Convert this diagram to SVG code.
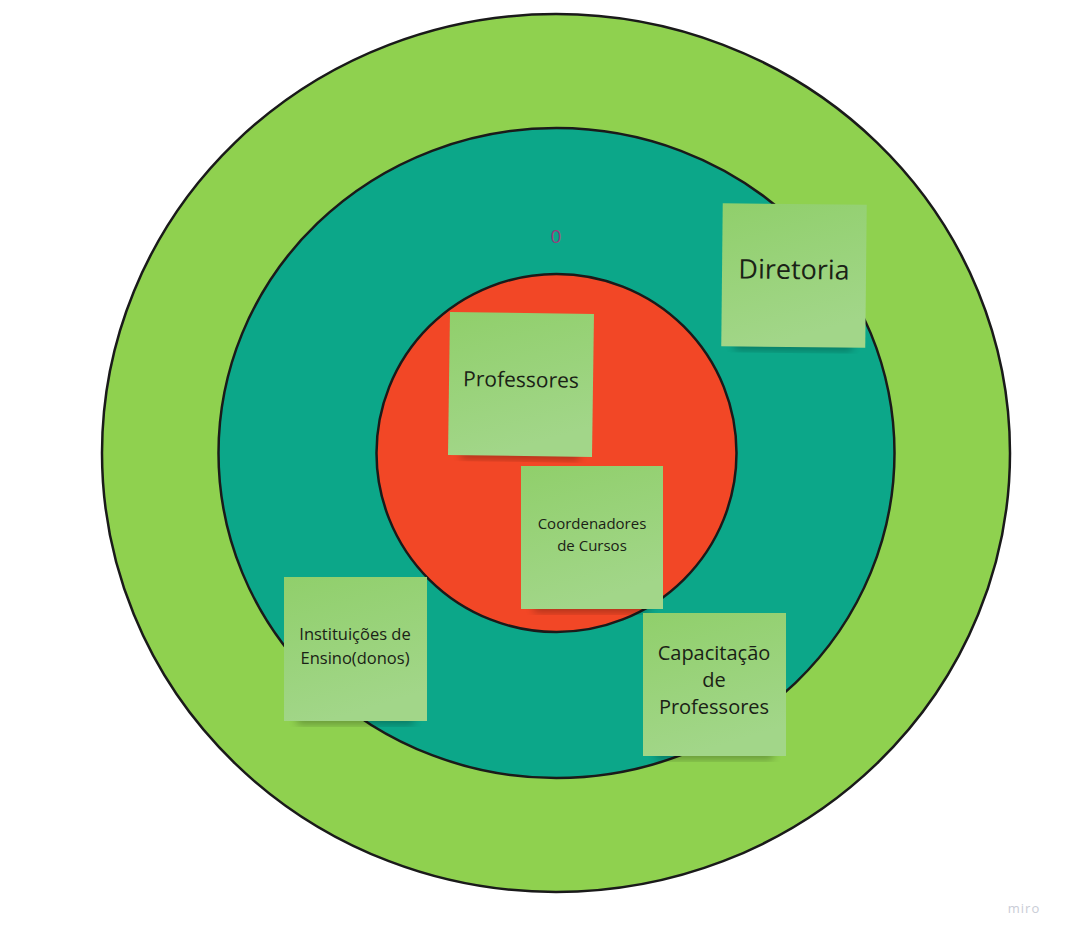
<svg xmlns="http://www.w3.org/2000/svg" width="1066" height="937" viewBox="0 0 1066 937">
  <style>
    .ring { stroke: #1a1a1a; stroke-width: 2.5; }
    .note { fill: url(#noteFill); }
    .shadow { fill: #000; opacity: 0.3; filter: url(#soft); }
    .label { font-family: "Open Sans", "Noto Sans", sans-serif; fill: #1a2216; text-anchor: middle; }
  </style>
  <defs>
    <linearGradient id="noteFill" x1="0" y1="0" x2="0.3" y2="1">
      <stop offset="0" stop-color="#90cf6b"/>
      <stop offset="1" stop-color="#a2d689"/>
    </linearGradient>
    <filter id="soft" x="-20%" y="-30%" width="140%" height="160%">
      <feGaussianBlur stdDeviation="4"/>
    </filter>
  </defs>

  <rect width="1066" height="937" fill="#ffffff"/>

  <!-- concentric rings -->
  <g id="rings">
    <ellipse id="outer" class="ring" cx="556" cy="453" rx="454" ry="439" fill="#8fd14f"/>
    <ellipse id="middle" class="ring" cx="556.5" cy="453" rx="338" ry="325" fill="#0ca789"/>
    <ellipse id="inner" class="ring" cx="556.5" cy="453" rx="180" ry="179" fill="#f24726"/>
  </g>

  <text id="zero" x="556" y="243" font-family="Open Sans, Noto Sans, sans-serif" font-size="19" fill="#9a3a7c" text-anchor="middle">0</text>

  <!-- sticky notes -->
  <g id="note-professores" transform="rotate(0.8 521 384)">
    <rect class="shadow" x="462" y="449" width="118" height="10"/>
    <rect class="note" x="449" y="313" width="144" height="143"/>
    <text class="label" x="521" y="387" font-size="21">Professores</text>
  </g>

  <g id="note-diretoria" transform="rotate(0.6 794 275)">
    <rect class="shadow" x="735" y="340" width="118" height="10"/>
    <rect class="note" x="722" y="204" width="144" height="143"/>
    <text class="label" x="794" y="279" font-size="27">Diretoria</text>
  </g>

  <g id="note-coordenadores">
    <rect class="shadow" x="534" y="602" width="116" height="10"/>
    <rect class="note" x="521" y="466" width="142" height="143"/>
    <text class="label" x="592" y="529" font-size="15">Coordenadores</text>
    <text class="label" x="592" y="551" font-size="15">de Cursos</text>
  </g>

  <g id="note-instituicoes">
    <rect class="shadow" x="297" y="714" width="117" height="10"/>
    <rect class="note" x="284" y="577" width="143" height="144"/>
    <text class="label" x="355" y="640" font-size="16.5">Instituições de</text>
    <text class="label" x="355" y="664" font-size="16.5">Ensino(donos)</text>
  </g>

  <g id="note-capacitacao">
    <rect class="shadow" x="656" y="749" width="117" height="10"/>
    <rect class="note" x="643" y="613" width="143" height="143"/>
    <text class="label" x="714" y="660" font-size="20">Capacitação</text>
    <text class="label" x="714" y="687" font-size="20">de</text>
    <text class="label" x="714" y="714" font-size="20">Professores</text>
  </g>

  <!-- connectors: none in this chart -->
  <g id="connectors"/>

  <text id="brand" x="1024" y="913" font-family="Open Sans, Noto Sans, sans-serif" font-size="13" fill="#c9ccd6" text-anchor="middle" letter-spacing="1">miro</text>
</svg>
